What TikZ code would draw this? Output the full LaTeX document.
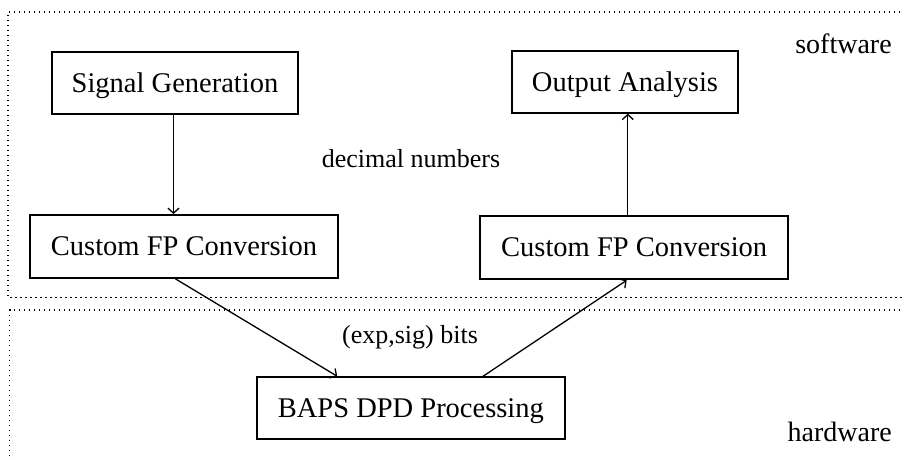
\documentclass[tikz,border=0pt]{standalone}
\usepackage{fontspec}
\setmainfont{Liberation Serif}
\usetikzlibrary{arrows.meta}
\begin{document}
\begin{tikzpicture}[x=1pt,y=-1pt,
  procbox/.style={draw, line width=2pt, inner sep=0pt, font=\fontsize{28.5}{34}\selectfont, text height=19pt, text depth=0pt},
  lbl/.style={inner sep=0pt, text height=18pt, text depth=0pt},
  region/.style={draw, line width=1.3pt, dash pattern=on 1.3pt off 3.7pt},
  flow/.style={line width=1.3pt, -{Straight Barb[length=5pt,width=11pt,line width=1.3pt]}}]
\useasboundingbox (0,0) rectangle (904,459);
\clip (0,0) rectangle (904,459);
\fill[white] (0,0) rectangle (904,459);
% regions
\draw[region] (930,12) -- (8,12) -- (8,297.7) -- (930,297.7);
\draw[region] (930,310) -- (9.8,310) -- (9.8,470);
% boxes
\node[procbox, minimum width=246pt, minimum height=62pt] (sig) at (175,83) {Signal Generation};
\node[procbox, minimum width=226pt, minimum height=62pt] (out) at (625,81.7) {Output Analysis};
\node[procbox, minimum width=308pt, minimum height=62.7pt] (cfpl) at (184,246.4) {Custom FP Conversion};
\node[procbox, minimum width=308pt, minimum height=63.7pt] (cfpr) at (634.2,247.4) {Custom FP Conversion};
\node[procbox, minimum width=308pt, minimum height=62pt] (baps) at (410.9,408.3) {BAPS DPD Processing};
% labels
\node[lbl, font=\fontsize{26}{31}\selectfont] (dec) at (411,158.7) {decimal numbers};
\node[lbl, font=\fontsize{26}{31}\selectfont] (bits) at (410,334.5) {(exp,sig) bits};
\node[lbl, font=\fontsize{28}{33}\selectfont] (sw) at (843.5,44) {software};
\node[lbl, font=\fontsize{28}{33}\selectfont] (hw) at (839.7,432.5) {hardware};
% connectors
\draw[flow] (sig.south -| 173.5,0) -- (cfpl.north -| 173.5,0);
\draw[flow] (cfpr.north -| 627.8,0) -- (out.south -| 627.8,0);
\draw[flow] (cfpl.south -| 175.3,0) -- (baps.north -| 337.3,0);
\draw[flow] (baps.north -| 483,0) -- (cfpr.south -| 626.7,0);
\end{tikzpicture}
\end{document}
